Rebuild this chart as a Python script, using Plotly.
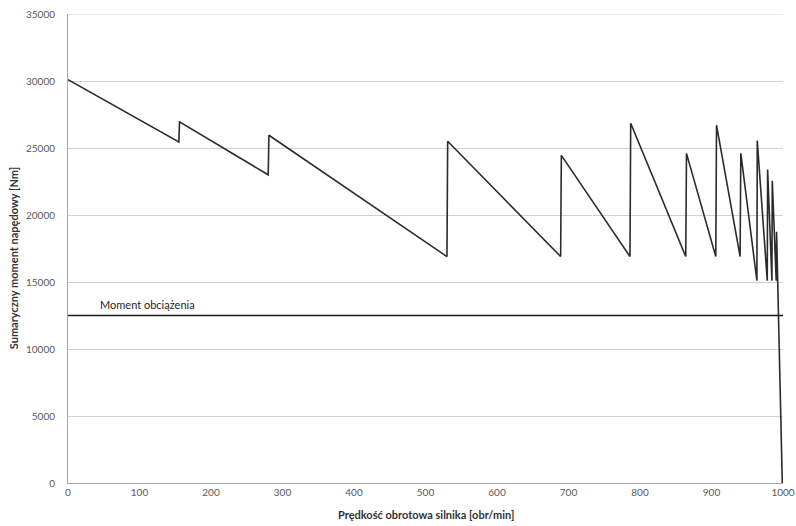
import plotly.graph_objects as go

# Engine speed [rpm] and total driving torque [Nm]
speed = [0, 155, 156, 280, 281, 530, 531, 689, 690, 786, 787, 864, 865, 906, 907,
         940, 941, 963.5, 964, 978, 978.5, 984.5, 985, 990.5, 991, 992.5, 999]
torque = [30100, 25450, 26950, 23000, 25950, 16900, 25500, 16900, 24450, 16900, 26850,
          16900, 24600, 16900, 26700, 16900, 24600, 15100, 25550, 15100, 23400, 15100,
          22550, 15100, 18750, 15100, 0]

load_speed = [0, 1000]
load_torque = [12500, 12500]
load_label = "Moment obciążenia"

x_ticks = [0, 100, 200, 300, 400, 500, 600, 700, 800, 900, 1000]
y_ticks = [0, 5000, 10000, 15000, 20000, 25000, 30000, 35000]
y_tick_text = ["0", "5000", "10000", "15000", "20000", "25000", "30000", "35000"]
x_title = "Prędkość obrotowa silnika [obr/min]"
y_title = "Sumaryczny moment napędowy [Nm]"

FONT = "Lato, 'Open Sans', sans-serif"
GRID = "#d9cfca"

fig = go.Figure()
fig.add_trace(go.Scatter(x=load_speed, y=load_torque, mode="lines",
                         line=dict(color="#1a1a1a", width=1.6), showlegend=False,
                         hoverinfo="skip"))
fig.add_trace(go.Scatter(x=speed, y=torque, mode="lines",
                         line=dict(color="#2b2b2b", width=1.6), showlegend=False))

fig.add_annotation(x=42, y=load_torque[0], text=load_label, showarrow=False,
                   xanchor="left", yanchor="bottom", yshift=3,
                   font=dict(family=FONT, size=11, color="#262626"))

# top gridline (at the range end)
fig.add_shape(type="line", xref="paper", x0=0, x1=1, yref="y",
              y0=y_ticks[-1], y1=y_ticks[-1], line=dict(color=GRID, width=1),
              layer="below")

# axis titles
fig.add_annotation(xref="paper", yref="paper", x=0.5, y=-0.068,
                   text="<b>" + x_title + "</b>", showarrow=False,
                   xanchor="center", yanchor="middle",
                   font=dict(family=FONT, size=11, color="#333333"))
fig.add_annotation(xref="paper", yref="paper", x=-0.075, y=0.48,
                   text="<b>" + y_title + "</b>", showarrow=False, textangle=-90,
                   xanchor="center", yanchor="middle",
                   font=dict(family=FONT, size=11, color="#333333"))

fig.update_layout(
    width=796, height=526,
    margin=dict(l=68, r=13, t=14, b=43, autoexpand=False),
    paper_bgcolor="white", plot_bgcolor="white",
    font=dict(family=FONT, size=10, color="#595959"),
    showlegend=False,
)
fig.update_xaxes(range=[0, 1000], tickvals=x_ticks, showgrid=False,
                 showline=True, linecolor="#a6a6a6", linewidth=1,
                 ticks="", zeroline=False, automargin=False,
                 ticklabeloverflow="allow",
                 tickfont=dict(size=10, color="#595959"))
fig.update_yaxes(range=[0, 35000], tickvals=y_ticks, ticktext=y_tick_text,
                 showgrid=True, gridcolor=GRID, gridwidth=1,
                 showline=True, linecolor="#a6a6a6", linewidth=1,
                 ticks="", zeroline=False, ticklabelstandoff=10, automargin=False,
                 ticklabeloverflow="allow",
                 tickfont=dict(size=10, color="#595959"))

# remove the default 8px page margin so the figure fills the window exactly
fig.write_html("out.html", config={"displayModeBar": False},
               post_script="document.body.style.margin='0';document.body.style.overflow='hidden';")
